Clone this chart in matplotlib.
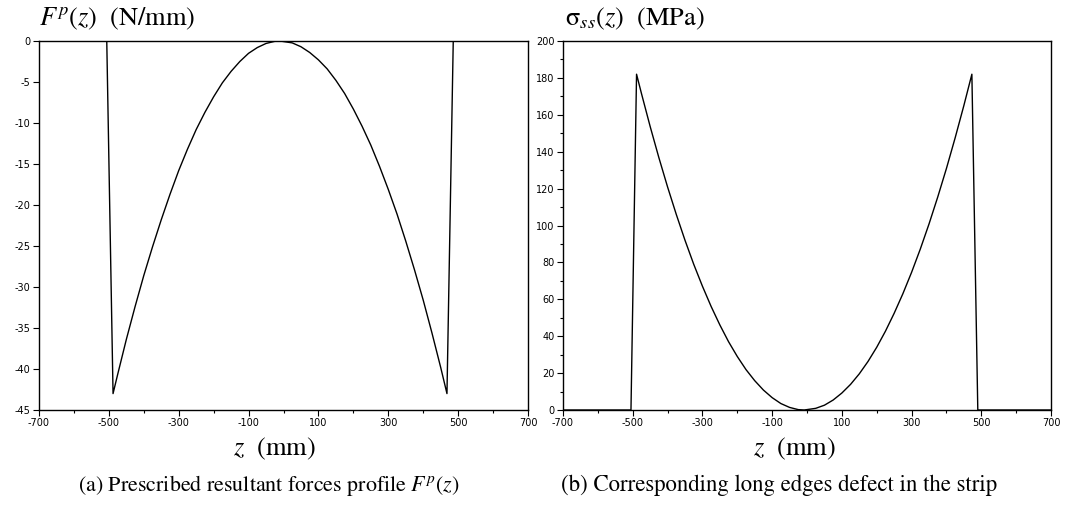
import matplotlib
matplotlib.use("Agg")
import matplotlib.pyplot as plt
from matplotlib.ticker import MultipleLocator, FixedLocator

plt.rcParams['axes.unicode_minus'] = False
plt.rcParams['mathtext.fontset'] = 'stix'

# ---- data ----
z_force = [-700, -506, -488, -475, -450, -425, -400, -375, -350, -325, -300, -275, -250,
           -225, -200, -175, -150, -125, -100, -75, -50, -25, -10, 25, 50, 75, 100, 125,
           150, 175, 200, 225, 250, 275, 300, 325, 350, 375, 400, 425, 450, 468, 486, 700]
force = [0.0, 0.0, -43.0, -40.7, -36.4, -32.4, -28.6, -25.1, -21.8, -18.7, -15.8, -13.2,
         -10.8, -8.7, -6.8, -5.1, -3.7, -2.5, -1.5, -0.8, -0.3, -0.04, 0.0, -0.23, -0.7,
         -1.4, -2.3, -3.4, -4.8, -6.4, -8.3, -10.4, -12.7, -15.3, -18.1, -21.1, -24.4,
         -27.9, -31.6, -35.6, -39.8, -43.0, 0.0, 0.0]

z_stress = [-700, -505, -489, -475, -450, -425, -400, -375, -350, -325, -300, -275, -250,
            -225, -200, -175, -150, -125, -100, -75, -50, -25, -8, 25, 50, 75, 100, 125,
            150, 175, 200, 225, 250, 275, 300, 325, 350, 375, 400, 425, 450, 473, 490, 700]
stress = [0.0, 0.0, 182.0, 171.6, 153.7, 136.8, 120.9, 106.0, 92.0, 79.0, 67.1, 56.1,
          46.1, 37.0, 29.0, 21.9, 15.9, 10.8, 6.7, 3.5, 1.4, 0.2, 0.0, 0.9, 2.6, 5.4,
          9.2, 13.9, 19.6, 26.3, 34.0, 42.7, 52.4, 63.0, 74.6, 87.2, 100.8, 115.4,
          130.9, 147.5, 165.0, 182.0, 0.0, 0.0]

x_ticks = [-700, -500, -300, -100, 100, 300, 500, 700]
force_ticks = [0, -5, -10, -15, -20, -25, -30, -35, -40, -45]
stress_ticks = [0, 20, 40, 60, 80, 100, 120, 140, 160, 180, 200]

W, H = 1067, 511
fig = plt.figure(figsize=(W / 100, H / 100), dpi=100)

def ax_rect(x0, x1, y0, y1):
    return [x0 / W, 1 - y1 / H, (x1 - x0) / W, (y1 - y0) / H]

axL = fig.add_axes(ax_rect(39, 528, 41, 410))
axR = fig.add_axes(ax_rect(563, 1051, 41, 410))

axL.plot(z_force, force, color='black', lw=1.0)
axR.plot(z_stress, stress, color='black', lw=1.0)

for ax in (axL, axR):
    ax.set_xlim(-700, 700)
    ax.set_xticks(x_ticks)
    ax.xaxis.set_minor_locator(FixedLocator([-600, -400, -200, 0, 200, 400, 600]))
    ax.tick_params(axis='both', which='major', labelsize=7, length=4, width=0.8,
                   direction='out', pad=2)
    ax.tick_params(axis='both', which='minor', length=2.5, width=0.8, direction='out')
    for s in ax.spines.values():
        s.set_linewidth(1.0)

axL.set_ylim(-45, 0)
axL.set_yticks(force_ticks)
axR.set_ylim(0, 200)
axR.set_yticks(stress_ticks)
axR.yaxis.set_minor_locator(MultipleLocator(10))

serif = 'STIXGeneral'
fig.text(39 / W, 1 - 25 / H, r'$F^p(z)$  (N/mm)', family=serif, fontsize=19,
         ha='left', va='baseline')
fig.text(565 / W, 1 - 25 / H, r'$\mathrm{\sigma}_{ss}(z)$  (MPa)', family=serif,
         fontsize=19, ha='left', va='baseline')

fig.text(274 / W, 1 - 455 / H, r'$z$  (mm)', family=serif, fontsize=19,
         ha='center', va='baseline')
fig.text(794 / W, 1 - 455 / H, r'$z$  (mm)', family=serif, fontsize=19,
         ha='center', va='baseline')

fig.text(269 / W, 1 - 491 / H, r'(a) Prescribed resultant forces profile $F^p(z)$',
         family=serif, fontsize=15.8, ha='center', va='baseline')
fig.text(779 / W, 1 - 491 / H, '(b) Corresponding long edges defect in the strip',
         family=serif, fontsize=16.4, ha='center', va='baseline')

fig.savefig('out.png', dpi=100)
